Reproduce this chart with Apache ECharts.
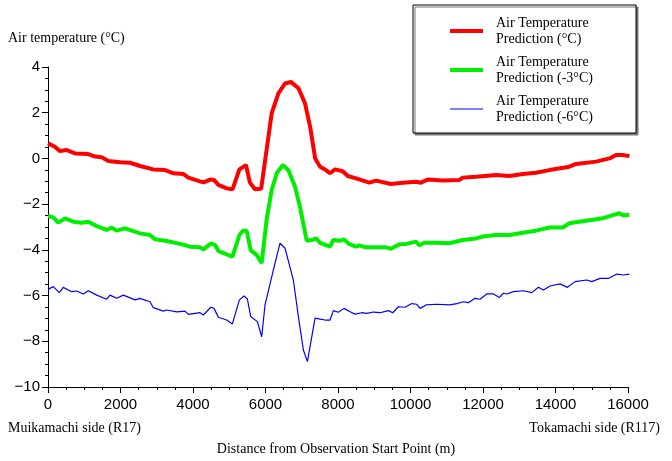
<!DOCTYPE html>
<html>
<head>
<meta charset="utf-8">
<script src="https://cdn.jsdelivr.net/npm/echarts@6/dist/echarts.min.js"></script>
<style>
  html, body { margin: 0; padding: 0; background: #fff; }
  #chart { width: 672px; height: 461px; }
</style>
</head>
<body>
<div id="chart"></div>
<script>
// distance (m), temperature (°C)
let predBase = [[0,0.66],[190,0.51],[330,0.32],[500,0.37],[745,0.22],[1110,0.19],[1300,0.08],[1480,0.05],
  [1665,-0.11],[1990,-0.17],[2260,-0.19],[2540,-0.33],[2900,-0.48],[3230,-0.51],[3460,-0.65],[3730,-0.68],
  [3870,-0.84],[4190,-1.0],[4290,-1.05],[4490,-0.92],[4580,-0.94],[4700,-1.16],[4930,-1.31],[5090,-1.35],
  [5280,-0.48],[5460,-0.29],[5570,-1.06],[5710,-1.35],[5880,-1.33],[6030,0.37],[6170,1.97],[6355,2.85],
  [6540,3.28],[6700,3.35],[6910,3.07],[7090,2.41],[7230,1.39],[7370,0.0],[7505,-0.36],[7640,-0.48],
  [7780,-0.65],[7920,-0.48],[8130,-0.56],[8270,-0.77],[8500,-0.87],[8865,-1.06],[9050,-0.97],[9460,-1.12],
  [9790,-1.06],[10150,-1.02],[10290,-1.06],[10475,-0.92],[10890,-0.97],[11350,-0.94],[11440,-0.84],
  [11810,-0.80],[12360,-0.73],[12730,-0.77],[13100,-0.68],[13460,-0.63],[13830,-0.51],[14380,-0.36],
  [14570,-0.24],[15120,-0.14],[15490,0.0],[15670,0.15],[15860,0.15],[16040,0.10]];

let predMinus3 = [[0,-2.52],[146,-2.58],[284,-2.81],[470,-2.62],[700,-2.77],[930,-2.81],[1110,-2.77],
  [1340,-2.96],[1620,-3.13],[1760,-3.03],[1895,-3.16],[2125,-3.06],[2540,-3.28],[2810,-3.35],[2950,-3.54],
  [3270,-3.61],[3640,-3.74],[3920,-3.86],[4190,-3.89],[4290,-3.98],[4490,-3.72],[4610,-3.79],[4700,-4.05],
  [4930,-4.20],[5090,-4.30],[5280,-3.35],[5380,-3.16],[5480,-3.16],[5590,-4.01],[5760,-4.23],[5895,-4.58],
  [6030,-2.69],[6170,-1.38],[6310,-0.65],[6475,-0.29],[6630,-0.51],[6815,-1.24],[6950,-2.11],[7137,-3.60],
  [7275,-3.57],[7395,-3.50],[7505,-3.69],[7780,-3.86],[7870,-3.57],[8056,-3.60],[8167,-3.54],[8300,-3.74],
  [8500,-3.86],[8590,-3.80],[8770,-3.89],[9325,-3.89],[9460,-3.95],[9690,-3.76],[9880,-3.74],[10150,-3.64],
  [10245,-3.80],[10380,-3.69],[10705,-3.69],[11070,-3.71],[11440,-3.57],[11810,-3.50],[11990,-3.42],
  [12360,-3.35],[12730,-3.35],[13100,-3.25],[13460,-3.16],[13830,-3.02],[14200,-3.02],[14380,-2.84],
  [14840,-2.73],[15300,-2.62],[15580,-2.48],[15760,-2.40],[15860,-2.49],[16040,-2.48]];

let predMinus6 = [[0,-5.73],[146,-5.61],[312,-5.87],[422,-5.64],[653,-5.83],[791,-5.80],[975,-5.93],
  [1113,-5.79],[1343,-5.98],[1619,-6.16],[1711,-5.98],[1895,-6.12],[2079,-5.98],[2401,-6.19],[2538,-6.12],
  [2814,-6.27],[2906,-6.53],[3182,-6.68],[3274,-6.63],[3550,-6.71],[3780,-6.68],[3872,-6.82],[4194,-6.75],
  [4286,-6.85],[4490,-6.51],[4580,-6.56],[4700,-6.95],[4930,-7.07],[5086,-7.24],[5280,-6.19],[5408,-6.02],
  [5500,-6.15],[5592,-6.92],[5775,-7.14],[5895,-7.80],[5987,-6.41],[6218,-4.88],[6400,-3.71],[6539,-3.93],
  [6769,-5.32],[6907,-6.92],[7045,-8.38],[7156,-8.89],[7367,-6.99],[7505,-7.03],[7642,-7.07],[7780,-7.07],
  [7872,-6.66],[8010,-6.73],[8167,-6.56],[8332,-6.71],[8470,-6.81],[8654,-6.75],[8792,-6.78],[8976,-6.72],
  [9160,-6.75],[9390,-6.66],[9510,-6.75],[9665,-6.49],[9850,-6.51],[10034,-6.35],[10172,-6.38],[10264,-6.56],
  [10429,-6.41],[10724,-6.38],[11091,-6.41],[11276,-6.35],[11458,-6.27],[11596,-6.31],[11781,-6.12],
  [11919,-6.16],[12103,-5.93],[12287,-5.93],[12453,-6.08],[12563,-5.90],[12655,-5.93],[12839,-5.83],
  [13114,-5.79],[13345,-5.87],[13528,-5.64],[13666,-5.76],[13850,-5.58],[14126,-5.49],[14328,-5.64],
  [14540,-5.39],[14862,-5.32],[15000,-5.39],[15230,-5.25],[15459,-5.25],[15690,-5.06],[15874,-5.10],
  [16039,-5.06]];

let seriesNames = ['Air Temperature\nPrediction (\u00b0C)', 'Air Temperature\nPrediction (-3\u00b0C)', 'Air Temperature\nPrediction (-6\u00b0C)'];

let serif = '"Liberation Serif", "Times New Roman", serif';
let narrow = '"Liberation Sans Narrow", "Liberation Sans", Arial, sans-serif';

let chart = echarts.init(document.getElementById('chart'));

let axisCommon = {
    axisLine: { onZero: false, lineStyle: { color: '#000', width: 1 } },
    axisTick: { inside: false, length: 6, lineStyle: { color: '#000' } },
    minorTick: { show: true, splitNumber: 4, length: 3, lineStyle: { color: '#000' } },
    splitLine: { show: false },
    axisLabel: { color: '#000', fontFamily: narrow, fontSize: 15 }
};

let option = {
    animation: false,
    backgroundColor: '#fff',
    grid: { left: 48, right: 44, top: 67, bottom: 74 },
    xAxis: Object.assign({}, axisCommon, {
        type: 'value',
        min: 0,
        max: 16000,
        interval: 2000,
        axisLabel: Object.assign({}, axisCommon.axisLabel, {
            margin: 10,
            formatter: function (v) { return String(v); }
        })
    }),
    yAxis: Object.assign({}, axisCommon, {
        type: 'value',
        min: -10,
        max: 4,
        interval: 2,
        axisLabel: Object.assign({}, axisCommon.axisLabel, {
            margin: 8,
            formatter: function (v) { return String(v).replace('-', '\u2212'); }
        })
    }),
    legend: {
        orient: 'vertical',
        left: 413,
        top: 5,
        padding: [10, 10, 8, 37],
        itemGap: 7,
        itemWidth: 33,
        itemHeight: 14,
        backgroundColor: '#fff',
        borderColor: '#000',
        borderWidth: 1,
        shadowColor: '#777',
        shadowOffsetX: 2,
        shadowOffsetY: 2,
        shadowBlur: 0,
        textStyle: {
            fontFamily: serif,
            fontSize: 14,
            lineHeight: 16,
            color: '#000',
            width: 130,
            padding: [0, 0, 0, 8]
        },
        data: [
            { name: seriesNames[0], icon: 'path://M0,0H33V4H0Z', symbolKeepAspect: true },
            { name: seriesNames[1], icon: 'path://M0,0H33V4H0Z', symbolKeepAspect: true },
            { name: seriesNames[2], icon: 'path://M0,0H33V1.2H0Z', symbolKeepAspect: true }
        ]
    },
    graphic: [
        { type: 'text', left: 8, top: 31, style: { text: 'Air temperature (\u00b0C)', font: '14px ' + serif, fill: '#000' } },
        { type: 'text', left: 8, top: 421, style: { text: 'Muikamachi side (R17)', font: '14px ' + serif, fill: '#000' } },
        { type: 'text', right: 12, top: 421, style: { text: 'Tokamachi side (R117)', font: '14px ' + serif, fill: '#000' } },
        { type: 'text', left: 'center', top: 442, style: { text: 'Distance from Observation Start Point (m)', font: '14px ' + serif, fill: '#000' } }
    ],
    series: [
        { name: seriesNames[0], type: 'line', data: predBase, showSymbol: false, symbol: 'none',
          lineStyle: { color: '#ff0000', width: 4 }, itemStyle: { color: '#ff0000' } },
        { name: seriesNames[1], type: 'line', data: predMinus3, showSymbol: false, symbol: 'none',
          lineStyle: { color: '#00ee00', width: 4 }, itemStyle: { color: '#00ee00' } },
        { name: seriesNames[2], type: 'line', data: predMinus6, showSymbol: false, symbol: 'none',
          lineStyle: { color: '#0000ff', width: 1.2 }, itemStyle: { color: '#0000ff' } }
    ]
};

chart.setOption(option);
</script>
</body>
</html>
